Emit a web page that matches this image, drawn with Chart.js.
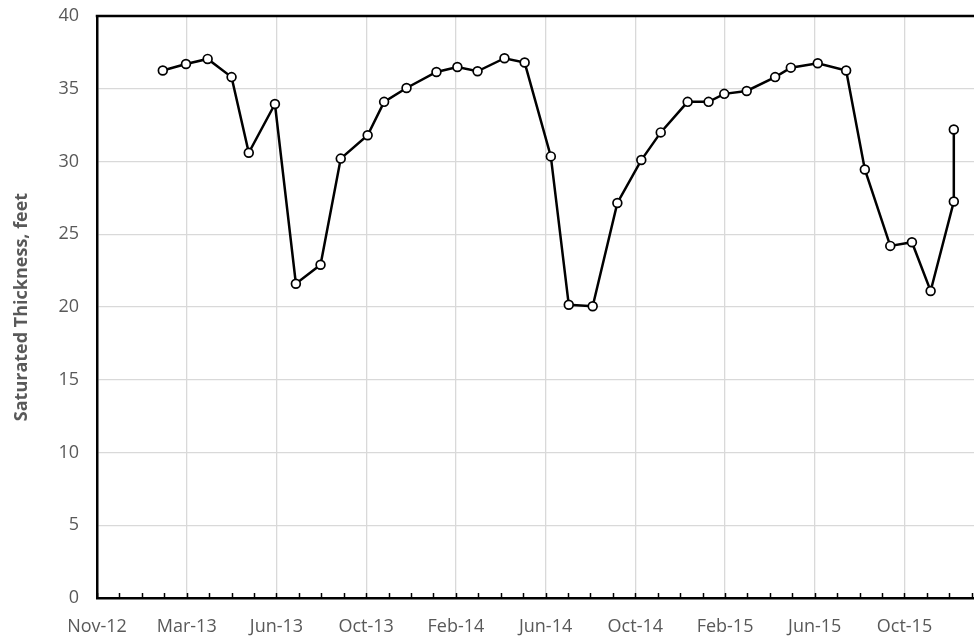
<!DOCTYPE html>
<html>
<head>
<meta charset="utf-8">
<script src="https://cdn.jsdelivr.net/npm/chart.js@4.4.1/dist/chart.umd.min.js"></script>
<style>
  html, body { margin: 0; padding: 0; background: #ffffff; }
  #wrap { width: 974px; height: 636px; position: relative; }
</style>
</head>
<body>
<div id="wrap"><canvas id="c" width="974" height="636"></canvas></div>
<script>
// ---- data ----
const axisStart = '2012-11-01';
const sampleDates = [
  '2013-01-28','2013-02-28','2013-03-29','2013-04-30','2013-05-23','2013-06-27',
  '2013-07-25','2013-08-27','2013-09-23','2013-10-29','2013-11-20','2013-12-20',
  '2014-01-29','2014-02-26','2014-03-25','2014-04-30','2014-05-27','2014-07-01',
  '2014-07-25','2014-08-26','2014-09-28','2014-10-30','2014-11-25','2014-12-31',
  '2015-01-28','2015-02-18','2015-03-20','2015-04-27','2015-05-18','2015-06-23',
  '2015-07-31','2015-08-25','2015-09-28','2015-10-27','2015-11-21','2015-12-22',
  '2015-12-22'
];
const thickness = [
  36.25, 36.7, 37.05, 35.8, 30.6, 33.95,
  21.6, 22.9, 30.2, 31.8, 34.1, 35.05,
  36.15, 36.5, 36.2, 37.1, 36.8, 30.35,
  20.15, 20.05, 27.15, 30.1, 32.0, 34.1,
  34.1, 34.65, 34.85, 35.8, 36.45, 36.75,
  36.25, 29.45, 24.2, 24.45, 21.1, 27.25,
  32.2
];
const xTickLabels = ['Nov-12','Mar-13','Jun-13','Oct-13','Feb-14','Jun-14','Oct-14','Feb-15','Jun-15','Oct-15'];
const yTickValues = [0, 5, 10, 15, 20, 25, 30, 35, 40];
const yTitle = 'Saturated Thickness, feet';
const majorStepDays = 120;
const minorStepDays = 30;
const axisEndDays = 1173;

// ---- build ----
const DAY = 86400000;
const t0 = Date.parse(axisStart + 'T00:00:00Z');
const toDays = s => Math.round((Date.parse(s + 'T00:00:00Z') - t0) / DAY);
const points = sampleDates.map((d, i) => ({ x: toDays(d), y: thickness[i] }));

const FONT = "'Open Sans', 'Liberation Sans', sans-serif";
const TICK_COLOR = '#595959';
const GRID_COLOR = '#d9d9d9';

const frame = {
  id: 'frame',
  afterDraw(chart) {
    const { ctx, chartArea: a, scales } = chart;
    ctx.save();
    ctx.strokeStyle = '#000';
    // top border
    ctx.lineWidth = 2.5;
    ctx.beginPath();
    ctx.moveTo(a.left - 1.25, a.top);
    ctx.lineTo(a.right, a.top);
    ctx.stroke();
    // inside tick marks on x axis
    ctx.lineWidth = 1.5;
    scales.x.ticks.forEach(t => {
      const px = Math.round(scales.x.getPixelForValue(t.value)) + 0.5;
      ctx.beginPath();
      ctx.moveTo(px, a.bottom);
      ctx.lineTo(px, a.bottom - 5);
      ctx.stroke();
    });
    ctx.restore();
  }
};

new Chart(document.getElementById('c'), {
  type: 'line',
  data: {
    datasets: [{
      data: points,
      borderColor: '#000',
      borderWidth: 2.5,
      tension: 0,
      pointRadius: 4.4,
      pointBorderWidth: 1.7,
      pointBackgroundColor: '#fff',
      pointBorderColor: '#000'
    }]
  },
  options: {
    responsive: false,
    animation: false,
    events: [],
    layout: { autoPadding: false, padding: { top: 16, right: 0, left: 0, bottom: 0 } },
    plugins: { legend: { display: false }, tooltip: { enabled: false } },
    scales: {
      x: {
        type: 'linear',
        min: 0,
        max: axisEndDays,
        afterBuildTicks(scale) {
          const ticks = [];
          for (let v = 0; v <= axisEndDays; v += minorStepDays) ticks.push({ value: v });
          scale.ticks = ticks;
        },
        afterFit(scale) { scale.height = 38; scale.paddingRight = 0; scale.paddingLeft = 0; },
        ticks: {
          autoSkip: false,
          maxRotation: 0,
          padding: 18,
          color: TICK_COLOR,
          font: { family: FONT, size: 18 },
          callback(v) {
            if (v % majorStepDays !== 0) return '';
            const i = v / majorStepDays;
            return xTickLabels[i] !== undefined ? xTickLabels[i] : '';
          }
        },
        grid: {
          drawTicks: false,
          lineWidth: 1.3,
          color(ctx) {
            const v = ctx.tick ? ctx.tick.value : 0;
            return (v % majorStepDays === 0 && v !== 0) ? GRID_COLOR : 'rgba(0,0,0,0)';
          }
        },
        border: { display: true, color: '#000', width: 2.5 }
      },
      y: {
        min: 0,
        max: 40,
        afterBuildTicks(scale) { scale.ticks = yTickValues.map(v => ({ value: v })); },
        afterFit(scale) { scale.width = 97; scale.paddingTop = 0; scale.paddingBottom = 0; },
        ticks: {
          padding: 18,
          color: TICK_COLOR,
          font: { family: FONT, size: 18 }
        },
        grid: {
          drawTicks: false,
          lineWidth: 1.3,
          color(ctx) { return ctx.tick && ctx.tick.value !== 0 ? GRID_COLOR : 'rgba(0,0,0,0)'; }
        },
        border: { display: true, color: '#000', width: 2.5 },
        title: {
          display: true,
          text: yTitle,
          color: TICK_COLOR,
          font: { family: FONT, size: 18, weight: 'bold' },
          padding: { top: 11, bottom: 0 }
        }
      }
    }
  },
  plugins: [frame]
});
</script>
</body>
</html>
